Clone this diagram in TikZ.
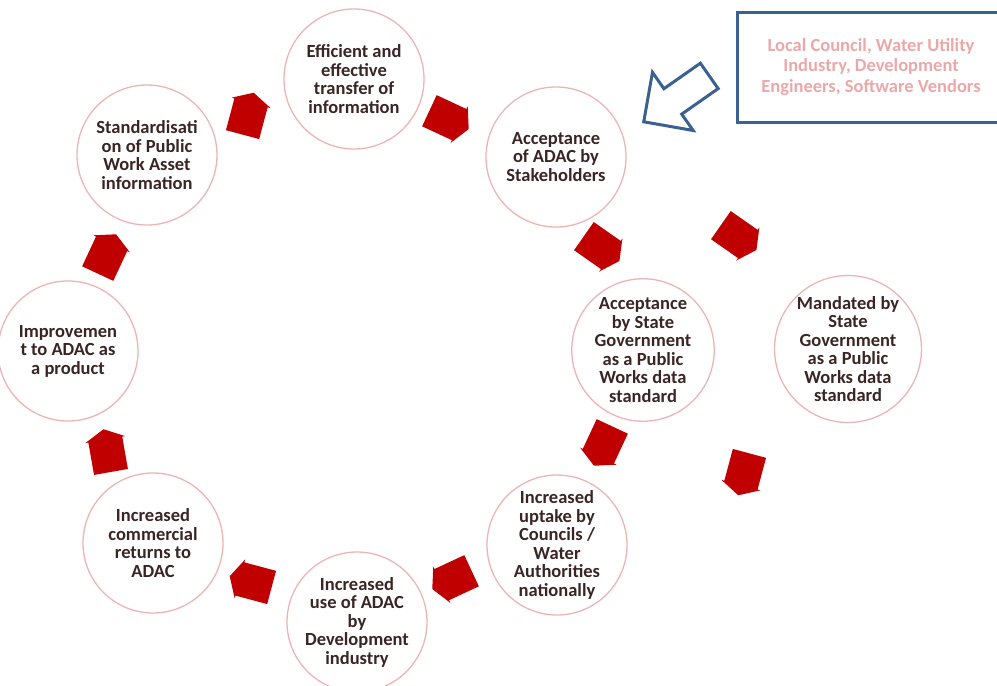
\documentclass[tikz,border=0pt]{standalone}
\usepackage{fontspec}
\setmainfont{Carlito}
\usetikzlibrary{shapes.arrows}
\definecolor{ringpink}{HTML}{EDB4B4}
\definecolor{txtdark}{HTML}{3A2424}
\definecolor{arrowred}{HTML}{C00000}
\definecolor{boxblue}{HTML}{3A6190}
\definecolor{boxtxt}{HTML}{EBA8A8}
\begin{document}
\begin{tikzpicture}[x=1pt,y=-1pt,
  stage/.style={circle, draw=ringpink, line width=1.3pt, minimum size=140pt, inner sep=0pt,
    align=center, text=txtdark, font=\fontsize{18.5}{18.5}\selectfont\bfseries},
  flowarrow/.style={single arrow, fill=arrowred, draw=none, inner sep=17pt,
    minimum height=40pt, single arrow head extend=3pt, single arrow tip angle=125},
  pointer/.style={single arrow, draw=boxblue, line width=3pt, fill=white, inner sep=14pt,
    minimum height=80pt, single arrow head extend=20pt}]
\useasboundingbox (0,0) rectangle (997,686);

% stages
\node[stage] (c1) at (354,79) {Efficient and\\effective\\transfer of\\information};
\node[stage] (c2) at (556,157) {Acceptance\\of ADAC by\\Stakeholders};
\node[stage] (c3) at (147,155) {Standardisati\\on of Public\\Work Asset\\information};
\node[stage] (c4) at (68,351) {Improvemen\\t to ADAC as\\a product};
\node[stage] (c5) at (643,350) {Acceptance\\by State\\Government\\as a Public\\Works data\\standard};
\node[stage] (c6) at (848,349) {Mandated by\\State\\Government\\as a Public\\Works data\\standard};
\node[stage] (c7) at (557,545) {Increased\\uptake by\\Councils /\\Water\\Authorities\\nationally};
\node[stage] (c8) at (357,622) {Increased\\use of ADAC\\by\\Development\\industry};
\node[stage] (c9) at (153,543) {Increased\\commercial\\returns to\\ADAC};

% flow arrows
\node[flowarrow, rotate=75]   (a1)  at (247,118) {};
\node[flowarrow, rotate=-25]  (a2)  at (445,118) {};
\node[flowarrow, rotate=-35]  (a3)  at (598,246) {};
\node[flowarrow, rotate=-35]  (a4)  at (735,235) {};
\node[flowarrow, rotate=-115] (a5)  at (605,442) {};
\node[flowarrow, rotate=-105] (a6)  at (745,470) {};
\node[flowarrow, rotate=205]  (a7)  at (456,578) {};
\node[flowarrow, rotate=165]  (a8)  at (255,583) {};
\node[flowarrow, rotate=100]  (a9)  at (108,455) {};
\node[flowarrow, rotate=65]   (a10) at (105,258) {};

% stakeholder box and pointer
\node[draw=boxblue, line width=3pt, minimum width=268pt, minimum height=110pt,
  align=center, text=boxtxt, font=\fontsize{18.5}{20.5}\selectfont\bfseries]
  (src) at (871,67) {Local Council, Water Utility\\Industry, Development\\Engineers, Software Vendors};
\node[pointer, anchor=tip, rotate=215] (ptr) at (642,123) {};
\end{tikzpicture}
\end{document}
